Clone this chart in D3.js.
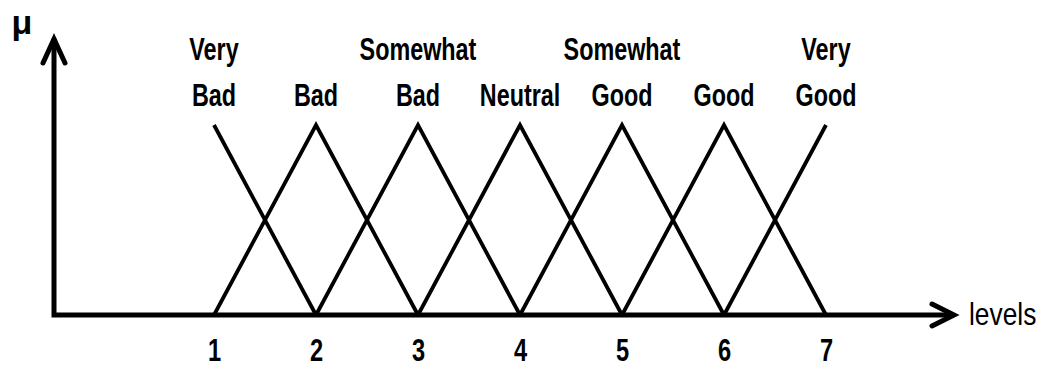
<!DOCTYPE html>
<html>
<head>
<meta charset="utf-8">
<script src="https://cdn.jsdelivr.net/npm/d3@7"></script>
<style>
  html, body { margin: 0; padding: 0; background: #ffffff; }
  svg { display: block; }
</style>
</head>
<body>
<svg id="chart" width="1045" height="369"></svg>
<script>
// ---- data ----
const levels = [1, 2, 3, 4, 5, 6, 7];
const labelLine1 = ["Very", "", "Somewhat", "", "Somewhat", "", "Very"];
const labelLine2 = ["Bad", "Bad", "Bad", "Neutral", "Good", "Good", "Good"];
const peakMembership = [1, 1, 1, 1, 1, 1, 1];
const footMembership = [0, 0, 0, 0, 0, 0, 0];
const xAxisTitle = "levels";
const yAxisTitle = "μ";

// ---- layout ----
const originX = 54, originY = 315;
const svg = d3.select("#chart");

const x = d3.scaleLinear().domain([1, 7]).range([214, 826]);
const y = d3.scaleLinear().domain([0, 1]).range([originY, 125]);

const fontFam = "'Liberation Sans', Arial, sans-serif";

// ---- membership triangles ----
const lo = d3.min(levels), hi = d3.max(levels);
const line = d3.line().x(d => x(d[0])).y(d => y(d[1]));
levels.forEach((lv, i) => {
  const pts = [];
  if (lv - 1 >= lo) pts.push([lv - 1, footMembership[i]]);
  pts.push([lv, peakMembership[i]]);
  if (lv + 1 <= hi) pts.push([lv + 1, footMembership[i]]);
  svg.append("path")
    .attr("d", line(pts))
    .attr("fill", "none")
    .attr("stroke", "#000")
    .attr("stroke-width", 3.8)
    .attr("stroke-linejoin", "miter");
});

// ---- axes ----
const axisG = svg.append("g").attr("stroke", "#000").attr("fill", "none")
  .attr("stroke-width", 5);
axisG.append("path")
  .attr("d", `M${originX},41 L${originX},${originY} L950,${originY}`)
  .attr("stroke-linejoin", "miter").attr("stroke-linecap", "square");
axisG.append("path")
  .attr("d", `M${originX - 11},63 L${originX},39 L${originX + 11},63`)
  .attr("stroke-linejoin", "miter").attr("stroke-linecap", "round");
axisG.append("path")
  .attr("d", `M932,${originY - 11} L954,${originY} L932,${originY + 11}`)
  .attr("stroke-linejoin", "miter").attr("stroke-linecap", "round");

// ---- tick labels via d3 axis ----
const tickAxis = d3.axisBottom(x).tickValues(levels).tickSize(0).tickPadding(0)
  .tickFormat(d3.format("d"));
const tg = svg.append("g").attr("transform", `translate(0,361)`).call(tickAxis);
tg.select(".domain").remove();
tg.selectAll(".tick text")
  .attr("y", 0).attr("dy", 0).attr("x", 0)
  .attr("font-family", fontFam)
  .attr("font-size", 32)
  .attr("font-weight", "bold")
  .attr("fill", "#000")
  .attr("text-anchor", "middle")
  .attr("transform", "scale(0.74,1)");

// ---- category labels ----
levels.forEach((lv, i) => {
  const g = svg.append("g");
  [[labelLine1[i], 60], [labelLine2[i], 106]].forEach(([t, by]) => {
    if (!t) return;
    g.append("text")
      .attr("transform", `translate(${x(lv)},${by}) scale(0.73,1)`)
      .attr("text-anchor", "middle")
      .attr("font-family", fontFam)
      .attr("font-size", 32)
      .attr("font-weight", "bold")
      .attr("fill", "#000")
      .text(t);
  });
});

// ---- axis titles ----
svg.append("text")
  .attr("transform", `translate(969,325) scale(0.85,1)`)
  .attr("text-anchor", "start")
  .attr("font-family", fontFam)
  .attr("font-size", 31)
  .attr("fill", "#000")
  .text(xAxisTitle);

svg.append("text")
  .attr("transform", `translate(22,34)`)
  .attr("text-anchor", "middle")
  .attr("font-family", fontFam)
  .attr("font-size", 34)
  .attr("font-weight", "bold")
  .attr("fill", "#000")
  .text(yAxisTitle);
</script>
</body>
</html>
